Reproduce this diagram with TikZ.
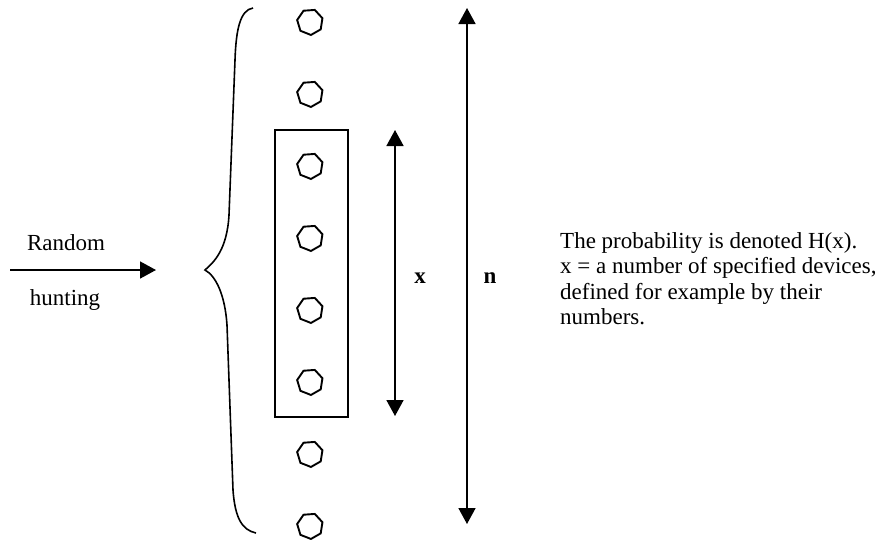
\documentclass[tikz,border=0pt]{standalone}
\usepackage{fontspec}
\setmainfont{Liberation Serif}
\usetikzlibrary{arrows.meta,shapes.geometric}
\begin{document}
\begin{tikzpicture}[x=1pt,y=-1pt,
  device/.style={draw,line width=1.9pt,regular polygon,regular polygon sides=7,
    minimum size=26pt,inner sep=0pt,rotate=184},
  arr/.style={line width=1.6pt,-{Triangle[width=17pt,length=16pt]}},
  darr/.style={line width=1.6pt,{Triangle[width=17pt,length=16pt]}-{Triangle[width=17pt,length=16pt]}},
  txt/.style={font=\fontsize{23}{25.5}\selectfont,inner sep=0pt},
  btxt/.style={font=\fontsize{23}{25.5}\selectfont\bfseries,inner sep=0pt}]
\useasboundingbox (0,0) rectangle (896,539);

% devices
\foreach \i/\y in {1/22,2/94,3/166,4/238,5/310,6/382,7/454,8/526}
  \node[device] (d\i) at (310,\y) {};

% selected group
\node[draw,line width=1.6pt,minimum width=73pt,minimum height=287pt,inner sep=0pt] (box) at (311.5,273.5) {};

% brace round all devices
\coordinate (btop) at (253,8);
\coordinate (btip) at (205,270);
\coordinate (bbot) at (256,533);
\draw[line width=1.6pt] (btop) .. controls (240,10) and (236,30) .. (235,60)
  -- (229,215) .. controls (227,250) and (214,262) .. (btip)
  .. controls (216,276) and (225,295) .. (227,325)
  -- (233,490) .. controls (235,518) and (242,530) .. (bbot);

% input arrow
\coordinate (inA) at (10,270);
\coordinate (inB) at (156,270);
\draw[arr] (inA) -- (inB);
\node[txt,anchor=base] (rnd) at (66,250) {Random};
\node[txt,anchor=base] (hun) at (65,305) {hunting};

% extent arrows
\coordinate (xT) at (395,130);
\coordinate (xB) at (395,416);
\draw[darr] (xT) -- (xB);
\node[btxt,anchor=base] (xl) at (420,283) {x};

\coordinate (nT) at (467,8);
\coordinate (nB) at (467,524);
\draw[darr] (nT) -- (nB);
\node[btxt,anchor=base] (nl) at (490,283) {n};

% explanation
\node[txt,anchor=base west,align=left] (expl) at (560,324.5)
  {The probability is denoted H(x).\\
   x = a number of specified devices,\\
   defined for example by their\\
   numbers.};
\end{tikzpicture}
\end{document}
